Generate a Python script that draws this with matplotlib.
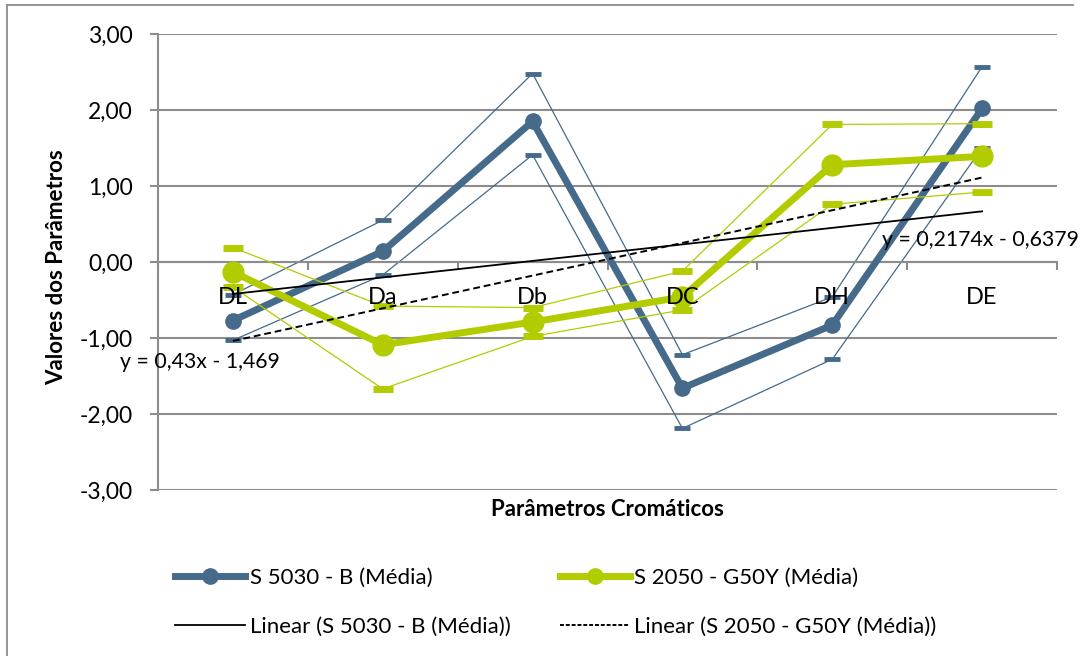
import numpy as np
import matplotlib
matplotlib.use("Agg")
import matplotlib.pyplot as plt
from matplotlib.lines import Line2D
from matplotlib.ticker import FuncFormatter, FixedLocator

# Chromatic parameters (categories on the x axis)
categories = ["DL", "Da", "Db", "DC", "DH", "DE"]

# S 5030 - B: mean and upper/lower limits
b_mean = [-0.77, 0.14, 1.85, -1.66, -0.83, 2.02]
b_upper = [-0.43, 0.55, 2.48, -1.22, -0.46, 2.57]
b_lower = [-1.03, -0.17, 1.41, -2.19, -1.28, 1.50]

# S 2050 - G50Y: mean and upper/lower limits
g_mean = [-0.13, -1.09, -0.79, -0.46, 1.28, 1.39]
g_upper = [0.19, -0.58, -0.60, -0.12, 1.81, 1.82]
g_lower = [-0.33, -1.67, -0.98, -0.63, 0.76, 0.92]

# Linear trend coefficients (slope, intercept)
b_trend = (0.2174, -0.6379)
g_trend = (0.43, -1.469)
b_trend_label = "y = 0,2174x - 0,6379"
g_trend_label = "y = 0,43x - 1,469"

b_name = "S 5030 - B (Média)"
g_name = "S 2050 - G50Y (Média)"
b_lin_name = "Linear (S 5030 - B (Média))"
g_lin_name = "Linear (S 2050 - G50Y (Média))"

y_ticks = [-3, -2, -1, 0, 1, 2, 3]
x_title = "Parâmetros Cromáticos"
y_title = "Valores dos Parâmetros"

plt.rcParams["font.family"] = ["Lato", "DejaVu Sans"]

BLUE = "#466A8A"
GREEN = "#B3CC00"
GRID = "#8C8C8C"

fig = plt.figure(figsize=(10.8, 6.56), dpi=100)
W, H = 1080, 656
ax = fig.add_axes([158 / W, 1 - 490 / H, (1057 - 158) / W, (490 - 34) / H])

x = np.arange(1, len(categories) + 1)

# gridlines
for yv in y_ticks:
    ax.axhline(yv, color=GRID, lw=1.5, zorder=0)

# blue series: limits then mean
ax.plot(x, b_upper, color=BLUE, lw=0.9, marker="_", ms=11, mew=3.5, zorder=2)
ax.plot(x, b_lower, color=BLUE, lw=0.9, marker="_", ms=11, mew=3.5, zorder=2)
ax.plot(x, b_mean, color=BLUE, lw=5, marker="o", ms=11, zorder=3,
        solid_joinstyle="round", solid_capstyle="round")

# green series: limits then mean
ax.plot(x, g_upper, color=GREEN, lw=0.9, marker="_", ms=15, mew=5, zorder=4)
ax.plot(x, g_lower, color=GREEN, lw=0.9, marker="_", ms=15, mew=5, zorder=4)
ax.plot(x, g_mean, color=GREEN, lw=5, marker="o", ms=15, zorder=5,
        solid_joinstyle="round", solid_capstyle="round")

# linear trends
xt = np.array([x[0], x[-1]], dtype=float)
ax.plot(xt, b_trend[0] * xt + b_trend[1], color="black", lw=1.3, zorder=6)
ax.plot(xt, g_trend[0] * xt + g_trend[1], color="black", lw=1.4,
        dashes=(3.5, 2), zorder=6)

ax.text(882 / W, 1 - 240 / H, b_trend_label, transform=fig.transFigure,
        fontsize=15.3, ha="left", va="center", zorder=7)
ax.text(120 / W, 1 - 362 / H, g_trend_label, transform=fig.transFigure,
        fontsize=15.3, ha="left", va="center", zorder=7)

ax.set_xlim(0.5, len(categories) + 0.5)
ax.set_ylim(y_ticks[0], y_ticks[-1])

for s in ["top", "right"]:
    ax.spines[s].set_visible(False)
ax.spines["left"].set_color(GRID)
ax.spines["left"].set_linewidth(1.5)
ax.spines["bottom"].set_position(("data", 0))
ax.spines["bottom"].set_color(GRID)
ax.spines["bottom"].set_linewidth(1.5)

ax.set_yticks(y_ticks)
ax.yaxis.set_major_formatter(FuncFormatter(lambda v, p: f"{v:.2f}".replace(".", ",")))
ax.tick_params(axis="y", length=6, width=1.5, color=GRID, pad=12, labelsize=16.5)

# category labels sit just under the zero line, above the data lines
ax.set_xticks(x)
ax.set_xticklabels([])
ax.xaxis.set_minor_locator(FixedLocator(np.arange(0.5, len(categories) + 1, 1.0)))
ax.tick_params(axis="x", which="major", length=0)
ax.tick_params(axis="x", which="minor", length=6, width=1.5, color=GRID, direction="out")
for xi, name in zip(x, categories):
    ax.annotate(name, xy=(xi, 0), xytext=(0, -35), textcoords="offset pixels",
                ha="center", va="center", fontsize=17, zorder=8)

fig.text(607 / W, 1 - 509 / H, x_title, ha="center", va="center",
         fontsize=16, fontweight="bold")
fig.text(57 / W, 1 - 267 / H, y_title, ha="center", va="center",
         fontsize=16, fontweight="bold", rotation=90)

# chart area border
fig.add_artist(Line2D([7 / W, 7 / W], [0, 1 - 5 / H], color=GRID, lw=1.3,
                      transform=fig.transFigure))
fig.add_artist(Line2D([7 / W, 1073 / W], [1 - 5 / H, 1 - 5 / H], color=GRID, lw=1.3,
                      transform=fig.transFigure))

handles = [
    Line2D([], [], color=BLUE, lw=5, marker="o", ms=11),
    Line2D([], [], color="black", lw=1.3),
    Line2D([], [], color=GREEN, lw=5, marker="o", ms=11),
    Line2D([], [], color="black", lw=1.4, dashes=(2, 1)),
]
labels = [b_name, b_lin_name, g_name, g_lin_name]
fig.legend(handles, labels, ncol=2, loc="upper left",
           bbox_to_anchor=(175 / W, 1 - 568 / H), frameon=False,
           fontsize=16, handlelength=3.15, handletextpad=0.22,
           columnspacing=2.2, labelspacing=1.3, borderpad=0, borderaxespad=0)

fig.savefig("out.png", dpi=100)
